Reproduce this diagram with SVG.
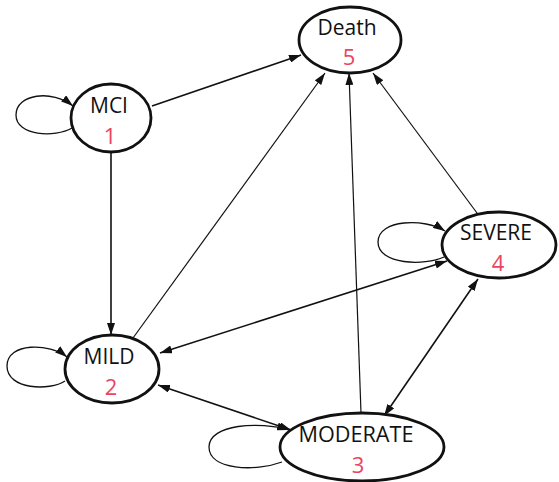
<svg xmlns="http://www.w3.org/2000/svg" width="559" height="482" viewBox="0 0 559 482">
<style>
.node{fill:#fff;stroke:#111;stroke-width:2.8}
.lbl{font-family:"Open Sans","Noto Sans",sans-serif;font-size:21px;fill:#111;text-anchor:middle}
.num{font-family:"Open Sans","Noto Sans",sans-serif;font-size:22px;fill:#ec4460;text-anchor:middle}
.e{fill:none;stroke:#111;stroke-width:1.6}
.l{fill:none;stroke:#111;stroke-width:1.3}
.t{fill:none;stroke:#111;stroke-width:1.2}
</style>
<defs>
<marker id="ah" viewBox="0 0 12 8" refX="12" refY="4" markerWidth="12" markerHeight="8" markerUnits="userSpaceOnUse" orient="auto-start-reverse">
<path d="M0,0 L12,4 L0,8 z" fill="#111"/>
</marker>
</defs>
<g id="connectors">
<path class="l" d="M72,128 C55,138 16,136 16,115 C16,94 52,89 73,106" marker-end="url(#ah)"/>
<path class="l" d="M65,381 C50,391 7,390 7,366 C7,342 50,343 67,357" marker-end="url(#ah)"/>
<path class="l" d="M444,257 C425,266 378,265 378,242 C378,219 425,218 445,231" marker-end="url(#ah)"/>
<path class="l" d="M282,462 C255,472 209,470 209,447 C209,424 260,421 289,430" marker-end="url(#ah)"/>
<path class="e" d="M152,106 L301,55" marker-end="url(#ah)"/>
<path class="e" d="M111,153 L111,335" marker-end="url(#ah)"/>
<path class="t" d="M133,338 L325,73" marker-end="url(#ah)"/>
<path class="t" d="M361,413 L349,73" marker-end="url(#ah)"/>
<path class="t" d="M477,213 L373,73" marker-end="url(#ah)"/>
<path class="e" d="M160,353 L447,261" marker-start="url(#ah)" marker-end="url(#ah)"/>
<path class="e" d="M158,385 L291,430" marker-start="url(#ah)" marker-end="url(#ah)"/>
<path class="e" d="M478,279 L384,416" marker-start="url(#ah)" marker-end="url(#ah)"/>
</g>
<g id="death">
<ellipse class="node" cx="350" cy="40" rx="51" ry="33"/>
<text class="lbl" x="347" y="35">Death</text>
<text class="num" x="349" y="65">5</text>
</g>
<g id="mci">
<ellipse class="node" cx="111" cy="118" rx="40" ry="34"/>
<text class="lbl" x="109" y="113">MCI</text>
<text class="num" x="110" y="144">1</text>
</g>
<g id="mild">
<ellipse class="node" cx="112" cy="369" rx="47" ry="34"/>
<text class="lbl" x="109" y="364">MILD</text>
<text class="num" x="111" y="395">2</text>
</g>
<g id="severe">
<ellipse class="node" cx="499" cy="245" rx="57" ry="33"/>
<text class="lbl" x="496" y="240" textLength="72" lengthAdjust="spacingAndGlyphs">SEVERE</text>
<text class="num" x="498" y="271">4</text>
</g>
<g id="moderate">
<ellipse class="node" cx="362" cy="447" rx="82" ry="34"/>
<text class="lbl" x="356" y="442" textLength="115" lengthAdjust="spacingAndGlyphs">MODERATE</text>
<text class="num" x="358" y="473">3</text>
</g>
</svg>
